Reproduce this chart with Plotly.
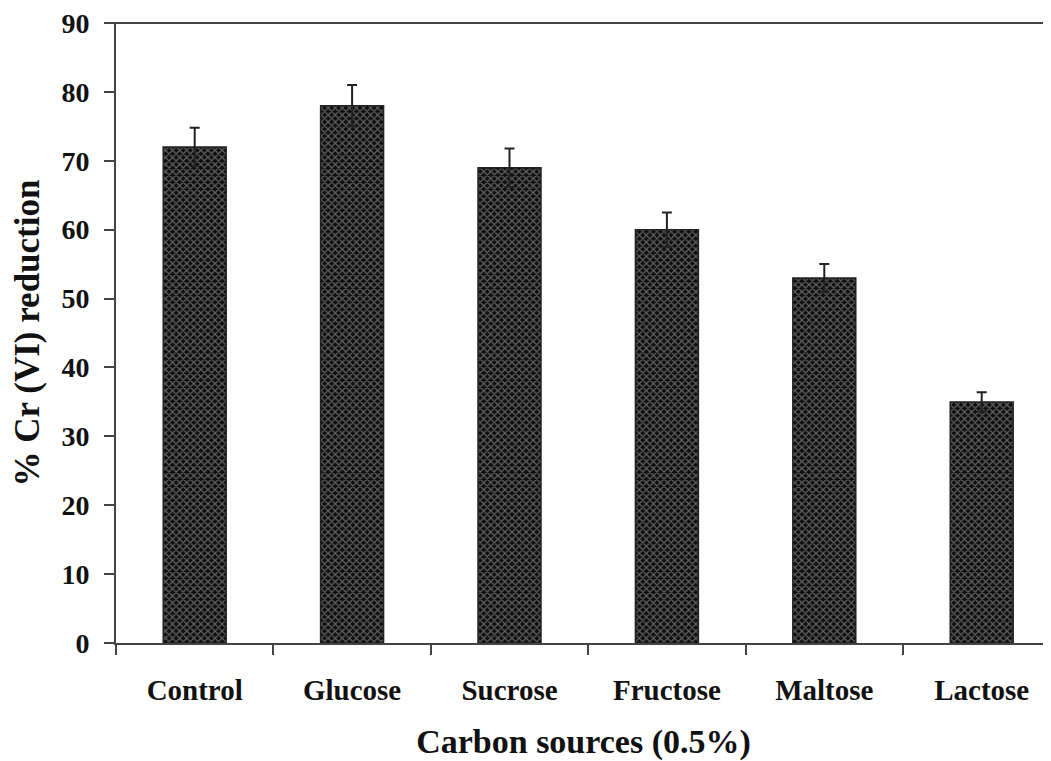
import plotly.graph_objects as go

categories = ["Control", "Glucose", "Sucrose", "Fructose", "Maltose", "Lactose"]
reduction = [72, 78, 69, 60, 53, 35]
errors = [2.8, 3.0, 2.8, 2.5, 2.0, 1.4]
y_ticks = [0, 10, 20, 30, 40, 50, 60, 70, 80, 90]

FONT = "Liberation Serif"

fig = go.Figure()
fig.add_trace(go.Bar(
    x=categories,
    y=reduction,
    width=0.4,
    marker=dict(
        color="#111111",
        line=dict(color="#222222", width=1.5),
        pattern=dict(shape="x", fgcolor="#b5b5b5", bgcolor="#0d0d0d", size=5, solidity=0.45),
    ),
    error_y=dict(type="data", array=errors, visible=True, color="#222222", thickness=2, width=5),
))

# the page body adds an 8px offset; size the figure so the plot ends at the window edge
FIG_W, FIG_H = 1043, 753
fig.update_layout(
    width=FIG_W, height=FIG_H,
    margin=dict(l=108, r=0, t=15, b=118),
    paper_bgcolor="white", plot_bgcolor="white",
    showlegend=False,
    font=dict(family=FONT, color="#111111"),
)
# top frame line
fig.add_shape(type="line", xref="paper", yref="paper", x0=-0.012, x1=1, y0=1, y1=1,
              line=dict(color="#444444", width=2), layer="above")
fig.update_xaxes(
    type="category",
    range=[-0.5, -0.5 + (FIG_W - 108) / 157.4],
    automargin=False,
    showline=True, linecolor="#444444", linewidth=2,
    ticks="outside", tickson="boundaries", ticklen=10, tickwidth=2, tickcolor="#444444",
    tickfont=dict(family=FONT, size=29, color="#111111", weight="bold"),
    ticklabelstandoff=20,
    showgrid=False, zeroline=False,
    title=dict(text="<b>Carbon sources (0.5%)</b>", font=dict(family=FONT, size=34, color="#111111"), standoff=30),
)
fig.update_yaxes(
    range=[0, 90],
    tickvals=y_ticks,
    automargin=False,
    ticklabeloverflow="allow",
    showline=True, linecolor="#444444", linewidth=2,
    ticks="outside", ticklen=10, tickwidth=2, tickcolor="#444444",
    tickfont=dict(family=FONT, size=28, color="#111111", weight="bold"),
    ticklabelstandoff=9,
    showgrid=False, zeroline=False,
    title=dict(text="<b>% Cr (VI) reduction</b>", font=dict(family=FONT, size=35, color="#111111"), standoff=13),
)

fig.write_html("out.html")
